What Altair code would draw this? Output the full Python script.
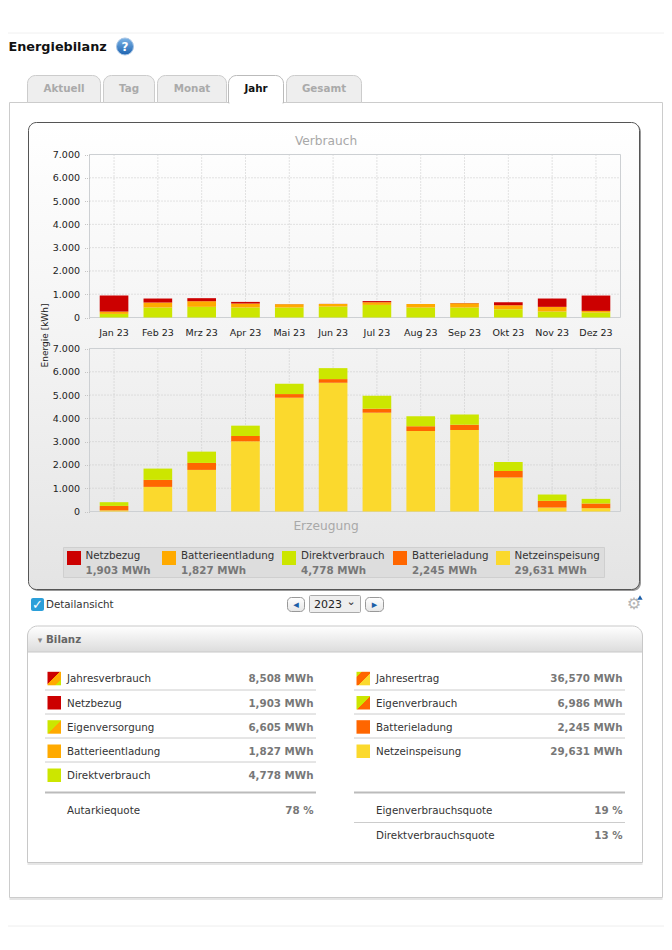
import altair as alt
import pandas as pd

MONTHS = ["Jan 23", "Feb 23", "Mrz 23", "Apr 23", "Mai 23", "Jun 23",
          "Jul 23", "Aug 23", "Sep 23", "Okt 23", "Nov 23", "Dez 23"]
TICKS = [0, 1000, 2000, 3000, 4000, 5000, 6000, 7000]

DIREKT_V = [155, 430, 457, 430, 430, 470, 540, 430, 430, 357, 257, 215]
BATT_ENT = [100, 213, 243, 170, 140, 110, 115, 150, 185, 173, 200, 70]
NETZBEZUG = [690, 172, 130, 70, 5, 5, 50, 5, 5, 127, 358, 658]

EINSPEIS = [50, 1057, 1786, 3014, 4886, 5529, 4243, 3457, 3500, 1457, 171, 143]
BATT_LAD = [190, 300, 300, 229, 157, 157, 171, 200, 229, 286, 286, 200]
DIREKT_E = [160, 486, 485, 443, 443, 471, 557, 429, 442, 386, 272, 200]

SERIES = ["Netzbezug", "Batterieentladung", "Direktverbrauch", "Batterieladung", "Netzeinspeisung"]
COLORS = ["#CC0000", "#FFAA00", "#CCE600", "#FF6600", "#FBD92D"]
TOTALS = ["1,903 MWh", "1,827 MWh", "4,778 MWh", "2,245 MWh", "29,631 MWh"]

TABS = ["Aktuell", "Tag", "Monat", "Jahr", "Gesamt"]

LEFT_LABELS = ["Jahresverbrauch", "Netzbezug", "Eigenversorgung", "Batterieentladung", "Direktverbrauch"]
LEFT_VALUES = ["8,508 MWh", "1,903 MWh", "6,605 MWh", "1,827 MWh", "4,778 MWh"]
RIGHT_LABELS = ["Jahresertrag", "Eigenverbrauch", "Batterieladung", "Netzeinspeisung"]
RIGHT_VALUES = ["36,570 MWh", "6,986 MWh", "2,245 MWh", "29,631 MWh"]

FONT = "DejaVu Sans"
BODY = 10.3
W, H = 656, 934
ONE = alt.Data(values=[{"k": 0}])


def vgrad(*stops, diag=False):
    return alt.LinearGradient(
        gradient="linear", x1=0, y1=0, x2=1 if diag else 0, y2=1,
        stops=[alt.GradientStop(color=c, offset=o) for c, o in stops])


def rect(x, x2, y, y2, **mark):
    return alt.Chart(ONE).mark_rect(**mark).encode(
        x=alt.value(x - 8), x2=alt.value(x2 - 8), y=alt.value(y - 8), y2=alt.value(y2 - 8))


def hline(x, x2, y, color="#cccccc", width=1):
    return alt.Chart(ONE).mark_rule(color=color, strokeWidth=width).encode(
        x=alt.value(x - 8), x2=alt.value(x2 - 8), y=alt.value(y - 8))


def label(s, x, y, size=BODY, color="#333333", align="left", weight="normal", **mark):
    return alt.Chart(ONE).mark_text(
        text=s, font=FONT, fontSize=size, color=color, align=align, baseline="alphabetic",
        fontWeight=weight, **mark).encode(x=alt.value(x - 8), y=alt.value(y - 8))


# plot geometry in page pixels
PX0, PX1 = 89.5, 620.5
UP_TOP, UP_BOT = 154.5, 317.5
LO_TOP, LO_BOT = 348.5, 511.5

xscale = alt.Scale(type="band", domain=MONTHS, range=[PX0 - 8, PX1 - 8],
                   paddingInner=0.346, paddingOuter=0.233)
upscale = alt.Scale(domain=[0, 7000], range=[UP_BOT - 8, UP_TOP - 8], nice=False)
loscale = alt.Scale(domain=[0, 7000], range=[LO_BOT - 8, LO_TOP - 8], nice=False)
colorscale = alt.Scale(domain=SERIES, range=COLORS)


def long_frame(rows):
    out = []
    for order, (name, vals) in enumerate(rows):
        for m, v in zip(MONTHS, vals):
            out.append({"month": m, "series": name, "value": v, "ord": order})
    return pd.DataFrame(out)


up_df = long_frame([("Direktverbrauch", DIREKT_V), ("Batterieentladung", BATT_ENT), ("Netzbezug", NETZBEZUG)])
lo_df = long_frame([("Netzeinspeisung", EINSPEIS), ("Batterieladung", BATT_LAD), ("Direktverbrauch", DIREKT_E)])
tick_df = pd.DataFrame({"v": TICKS})
month_df = pd.DataFrame({"month": MONTHS})

NUM = "replace(format(datum.value, ','), ',', '.')"
TICKFONT = dict(labelFont=FONT, labelFontSize=9.5, labelColor="#222222")


def yaxis(offset, **extra):
    return alt.Axis(orient="left", values=TICKS, labelExpr=NUM, domain=False, grid=False, ticks=True, tickSize=6,
                    tickColor="#c4c4c4", tickDash=[1, 1], labelPadding=4, offset=offset, zindex=1,
                    **TICKFONT, **extra)


def plot_frame(top, bot, scale):
    h = alt.Chart(tick_df).mark_rule(color="#c8c8c8", strokeDash=[1, 2], strokeWidth=1).encode(
        y=alt.Y("v:Q", scale=scale, axis=None),
        x=alt.value(PX0 - 8), x2=alt.value(PX1 - 8))
    v = alt.Chart(month_df).mark_rule(color="#c8c8c8", strokeDash=[1, 2], strokeWidth=1).encode(
        x=alt.X("month:N", scale=xscale, axis=None, sort=MONTHS),
        y=alt.value(top - 8), y2=alt.value(bot - 8))
    box = rect(PX0, PX1, top, bot, fill="transparent", stroke="#cdd0d3", strokeWidth=1)
    return [h, v, box]


def bars(df, scale, offset, **axextra):
    return alt.Chart(df).mark_bar().encode(
        x=alt.X("month:N", scale=xscale, sort=MONTHS, axis=None),
        y=alt.Y("value:Q", scale=scale, stack="zero", axis=yaxis(offset, **axextra)),
        color=alt.Color("series:N", scale=colorscale, legend=None),
        order=alt.Order("ord:Q"),
    )


layers = []

# page frame
layers += [hline(8, 672, 33, "#f0f0f0"), hline(8, 672, 926, "#eeeeee")]

# heading
layers.append(label("Energiebilanz", 8.5, 51, size=12.8, color="#111111", weight="bold"))
layers.append(alt.Chart(ONE).mark_circle(size=290, opacity=1, fill=vgrad(("#7db4e6", 0), ("#1c62b0", 1)),
                                         stroke="#a9c6e6", strokeWidth=1).encode(
    x=alt.value(125 - 8), y=alt.value(46.5 - 8)))
layers.append(label("?", 125, 51, size=12, color="#ffffff", align="center", weight="bold"))

# outer panel
layers.append(rect(9.5, 662.5, 897.5, 900, fill="#e4e4e4"))
layers.append(rect(9.5, 662.5, 102.5, 897.5, fill="#ffffff", stroke="#cccccc"))

# tabs
tab_x = [(27.5, 100.5), (103.5, 154.5), (157.5, 226.5), (228.5, 283.5), (286.5, 361.5)]
for name, (a, b) in zip(TABS, tab_x):
    active = name == "Jahr"
    layers.append(rect(a, b, 75.5, 103 if active else 102.5, fill="#ffffff" if active else "#eeeeee",
                       stroke="#bbbbbb" if active else "#cccccc", cornerRadiusTopLeft=8, cornerRadiusTopRight=8))
    layers.append(label(name, (a + b) / 2, 92, color="#111111" if active else "#aaaaaa",
                        align="center", weight="bold"))
layers.append(hline(229.5, 282.5, 103, "#ffffff", 2))

# chart panel
layers.append(rect(30, 641, 124, 591, fill="#9a9a9a", cornerRadius=8))
layers.append(rect(28.5, 639.5, 122.5, 589.5, fill=vgrad(("#ffffff", 0), ("#f4f4f4", 0.45), ("#e4e4e4", 1)),
                   stroke="#555555", cornerRadius=8))

layers.append(label("Verbrauch", 326, 145, size=12.2, color="#a8a8a8", align="center"))
layers.append(label("Erzeugung", 326, 530, size=12.2, color="#a8a8a8", align="center"))

# plots
layers += plot_frame(UP_TOP, UP_BOT, upscale)
layers += plot_frame(LO_TOP, LO_BOT, loscale)
layers.append(bars(up_df, upscale, -(PX0 - 8), title="Energie [kWh]", titleFont=FONT,
                   titleFontSize=9, titleFontWeight="normal", titleColor="#222222",
                   titleX=-42, titleY=327, titleAngle=270, titleAlign="center",
                   titleBaseline="alphabetic"))
layers.append(bars(lo_df, loscale, -(PX0 - 8), title=None))
layers.append(alt.Chart(month_df).mark_text(font=FONT, fontSize=9.5, color="#222222", baseline="alphabetic").encode(
    x=alt.X("month:N", scale=xscale, sort=MONTHS, axis=None),
    y=alt.value(336 - 8),
    text="month:N"))

# legend
layers.append(rect(63.5, 604.5, 547.5, 577.5, fill="#dddddd", stroke="#cfcfcf"))
swatch_x = [67, 162, 282, 393, 496]
text_x = [85.5, 181, 301, 412, 514.5]
for name, total, col, sx, tx in zip(SERIES, TOTALS, COLORS, swatch_x, text_x):
    layers.append(rect(sx, sx + 14, 551, 565, fill=col))
    layers.append(label(name, tx, 559, color="#333333"))
    layers.append(label(total, tx, 574, color="#777777", weight="bold"))

# controls
layers.append(rect(31, 44, 598, 611, fill="#2b9fd9", cornerRadius=2))
layers.append(label("✓", 37.5, 609, size=13, color="#ffffff", align="center", weight="bold"))
layers.append(label("Detailansicht", 46, 608, color="#333333"))
for a, b, glyph in [(287.5, 304.5, "◂"), (365.5, 383.5, "▸")]:
    layers.append(rect(a, b, 597.5, 611.5, fill=vgrad(("#ffffff", 0), ("#e6e6e6", 1)), stroke="#999999",
                       cornerRadius=4))
    layers.append(label(glyph, (a + b) / 2, 608, size=11, color="#1c5fa8", align="center"))
layers.append(rect(309.5, 360.5, 595.5, 612.5, fill="#eeeeee", stroke="#aaaaaa", cornerRadius=1))
layers.append(label("2023", 314, 608, size=11, color="#222222"))
layers.append(label("⌄", 351, 605, size=11, color="#333333", align="center"))
layers.append(label("⚙", 634, 609, size=16, color="#b4b4b4", align="center"))
layers.append(alt.Chart(ONE).mark_point(shape="triangle-up", filled=True, size=28, color="#1c5fa8", opacity=1).encode(
    x=alt.value(640 - 8), y=alt.value(597.5 - 8)))

# Bilanz panel
layers.append(rect(27.5, 642.5, 862, 865, fill="#e6e6e6"))
layers.append(rect(27.5, 642.5, 640, 862.5, fill="#ffffff", stroke="#c8c8c8"))
layers.append(rect(27.5, 642.5, 626, 652, fill=vgrad(("#ffffff", 0), ("#dcdcdc", 1)), stroke="#c8c8c8",
                   cornerRadiusTopLeft=10, cornerRadiusTopRight=10))
layers.append(label("▾", 40, 643, size=9, color="#888888", align="center"))
layers.append(label("Bilanz", 46, 643, size=10.3, color="#666666", weight="bold"))

ROW_Y = [682.3, 706.5, 730.7, 755, 779]
SEP_Y = [690, 714, 738, 762]


def split(*stops):
    return vgrad(*stops, diag=True)


left_fill = [
    split(("#CC0000", 0), ("#CC0000", .45), ("#FFAA00", .45), ("#FFAA00", .8), ("#CCE600", .8), ("#CCE600", 1)),
    "#CC0000",
    split(("#CCE600", 0), ("#CCE600", .5), ("#FFAA00", .5), ("#FFAA00", 1)),
    "#FFAA00",
    "#CCE600",
]
right_fill = [
    split(("#CCE600", 0), ("#CCE600", .2), ("#FF6600", .2), ("#FF6600", .55), ("#FBD92D", .55), ("#FBD92D", 1)),
    split(("#CCE600", 0), ("#CCE600", .5), ("#FF6600", .5), ("#FF6600", 1)),
    "#FF6600",
    "#FBD92D",
]
for labels, values, fills, sw, tx, vx, a, b in [
    (LEFT_LABELS, LEFT_VALUES, left_fill, 47.5, 67, 313.5, 45, 316),
    (RIGHT_LABELS, RIGHT_VALUES, right_fill, 356.5, 376, 622.5, 354, 625),
]:
    for name, val, fill, y in zip(labels, values, fills, ROW_Y):
        layers.append(rect(sw, sw + 13.5, y - 10.5, y + 3, fill=fill))
        layers.append(label(name, tx, y, color="#333333"))
        layers.append(label(val, vx, y, color="#777777", align="right", weight="bold"))
    for y in SEP_Y:
        if y < 762 or labels is LEFT_LABELS:
            layers.append(hline(a, b, y, "#cccccc"))
    layers.append(hline(a, b, 792.5, "#bbbbbb", 2))

layers.append(label("Autarkiequote", 67, 814.3))
layers.append(label("78 %", 313.5, 814.3, color="#777777", align="right", weight="bold"))
layers.append(label("Eigenverbrauchsquote", 376, 814.3))
layers.append(label("19 %", 622.5, 814.3, color="#777777", align="right", weight="bold"))
layers.append(hline(354, 625, 822.5, "#cccccc"))
layers.append(label("Direktverbrauchsquote", 376, 838.5))
layers.append(label("13 %", 622.5, 838.5, color="#777777", align="right", weight="bold"))

chart = (
    alt.layer(*layers)
    .resolve_scale(y="independent")
    .properties(width=W, height=H, padding=0, autosize=alt.AutoSizeParams(type="none"), background="#ffffff")
    .configure_view(stroke=None)
)

chart.save("out.html", embed_options={"renderer": "svg", "actions": False})
